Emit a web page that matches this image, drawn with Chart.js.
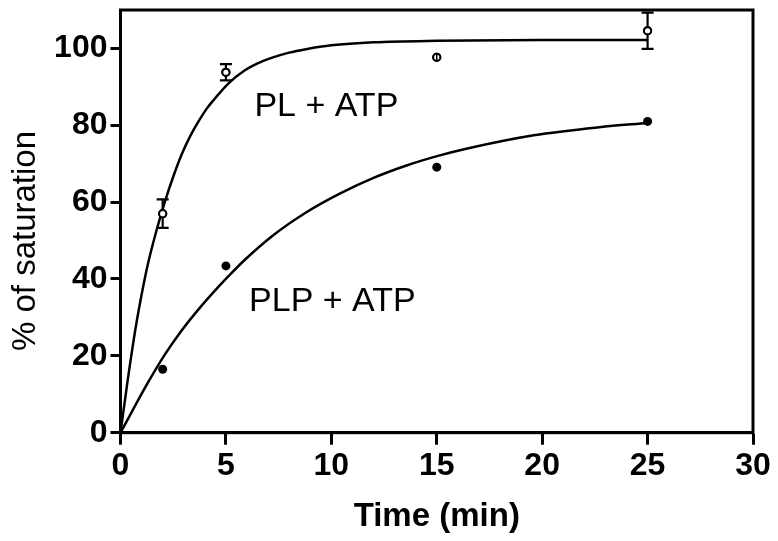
<!DOCTYPE html>
<html>
<head>
<meta charset="utf-8">
<script src="https://cdn.jsdelivr.net/npm/chart.js@4.4.1/dist/chart.umd.min.js"></script>
<style>
  html, body { margin: 0; padding: 0; background: #fff; }
  #wrap { width: 778px; height: 541px; position: relative; }
</style>
</head>
<body>
<div id="wrap"><canvas id="c" width="778" height="541"></canvas></div>
<script>
// ---- data ----
const timeMin = [2, 5, 15, 25];
const plAtp = [57.0, 93.8, 97.7, 104.6];
const plAtpErr = [3.7, 2.1, 1.0, 4.7];
const plpAtp = [16.5, 43.4, 69.1, 81.0];

const plFitTime = [0, 0.35, 0.7, 1.0, 1.3, 1.7, 2.1, 2.5, 2.9, 3.3, 3.7, 4.1, 4.5, 5.1, 5.9, 6.5, 7.2, 8.0, 8.8, 10, 12, 15, 20, 25];
const plFitValue = [0, 14.0, 26.7, 35.9, 43.9, 52.5, 60.0, 66.6, 72.4, 77.1, 81.0, 84.4, 87.1, 90.8, 94.3, 96.1, 97.6, 98.9, 99.8, 100.8, 101.6, 102.0, 102.2, 102.2];

const plpFitTime = [0, 1.3, 2.1, 2.9, 3.7, 4.5, 5.1, 5.9, 7.2, 8.8, 10.4, 12, 13.6, 15.1, 16.4, 19.6, 22.7, 25];
const plpFitValue = [0, 13.0, 20.3, 26.6, 32.1, 37.1, 40.6, 45.0, 51.2, 57.3, 62.2, 66.3, 69.6, 72.1, 73.9, 77.4, 79.5, 80.6];

const xTicks = [0, 5, 10, 15, 20, 25, 30];
const yTicks = [0, 20, 40, 60, 80, 100];

const seriesLabels = ['PL + ATP', 'PLP + ATP'];
const xTitle = 'Time (min)';
const yTitle = '% of saturation';

const toXY = (xs, ys) => xs.map((x, i) => ({ x: x, y: ys[i] }));

const FONT = "'Liberation Sans', Arial, Helvetica, sans-serif";

const framePlugin = {
  id: 'frame',
  afterDraw(chart) {
    const { ctx, chartArea: a } = chart;
    ctx.save();
    ctx.strokeStyle = '#000';
    ctx.lineWidth = 3;
    ctx.strokeRect(a.left, a.top, a.right - a.left, a.bottom - a.top);
    ctx.restore();
  }
};

const yTitlePlugin = {
  id: 'yTitle',
  afterDraw(chart) {
    const { ctx } = chart;
    ctx.save();
    ctx.fillStyle = '#000';
    ctx.font = "33px " + FONT;
    ctx.textAlign = 'center';
    ctx.textBaseline = 'middle';
    ctx.translate(26, 241);
    ctx.rotate(-Math.PI / 2);
    ctx.fillText(yTitle, 0, 0);
    ctx.restore();
  }
};

const errorBarPlugin = {
  id: 'errorBars',
  afterDatasetsDraw(chart) {
    const { ctx, scales } = chart;
    ctx.save();
    ctx.strokeStyle = '#000';
    timeMin.forEach((t, i) => {
      const px = scales.x.getPixelForValue(t);
      const py = scales.y.getPixelForValue(plAtp[i]);
      const yHi = scales.y.getPixelForValue(plAtp[i] + plAtpErr[i]);
      const yLo = scales.y.getPixelForValue(plAtp[i] - plAtpErr[i]);
      ctx.lineWidth = 2.2;
      ctx.beginPath();
      ctx.moveTo(px, yHi); ctx.lineTo(px, yLo);
      ctx.stroke();
      if (Math.abs(yLo - yHi) / 2 > 6) {
        ctx.beginPath();
        ctx.moveTo(px - 6, yHi); ctx.lineTo(px + 6, yHi);
        ctx.moveTo(px - 6, yLo); ctx.lineTo(px + 6, yLo);
        ctx.stroke();
      }
      ctx.beginPath();
      ctx.arc(px, py, 3.6, 0, Math.PI * 2);
      ctx.fillStyle = '#fff';
      ctx.fill();
      ctx.lineWidth = 2;
      ctx.stroke();
      if (Math.abs(yLo - yHi) / 2 <= 6) {
        ctx.beginPath();
        ctx.lineWidth = 1.5;
        ctx.moveTo(px, yHi); ctx.lineTo(px, yLo);
        ctx.stroke();
      }
    });
    ctx.restore();
  }
};

const labelPlugin = {
  id: 'seriesLabels',
  afterDraw(chart) {
    const { ctx, scales } = chart;
    ctx.save();
    ctx.fillStyle = '#000';
    ctx.font = "34px " + FONT;
    ctx.textBaseline = 'alphabetic';
    ctx.textAlign = 'left';
    ctx.fillText(seriesLabels[0], scales.x.getPixelForValue(6.35), scales.y.getPixelForValue(82.3));
    ctx.fillText(seriesLabels[1], scales.x.getPixelForValue(6.1), scales.y.getPixelForValue(31.8));
    ctx.restore();
  }
};

new Chart(document.getElementById('c'), {
  type: 'scatter',
  data: {
    datasets: [
      {
        label: seriesLabels[0] + ' fit',
        data: toXY(plFitTime, plFitValue),
        showLine: true,
        borderColor: '#000',
        borderWidth: 2.5,
        pointRadius: 0,
        cubicInterpolationMode: 'monotone'
      },
      {
        label: seriesLabels[1] + ' fit',
        data: toXY(plpFitTime, plpFitValue),
        showLine: true,
        borderColor: '#000',
        borderWidth: 2.5,
        pointRadius: 0,
        cubicInterpolationMode: 'monotone'
      },
      {
        label: seriesLabels[0],
        data: toXY(timeMin, plAtp),
        pointRadius: 3.6,
        pointBackgroundColor: '#fff',
        pointBorderColor: '#000',
        pointBorderWidth: 2
      },
      {
        label: seriesLabels[1],
        data: toXY(timeMin, plpAtp),
        pointRadius: 4.5,
        pointBackgroundColor: '#000',
        pointBorderColor: '#000',
        pointBorderWidth: 0
      }
    ]
  },
  options: {
    responsive: false,
    animation: false,
    events: [],
    layout: { padding: { top: 10, right: 25, left: 0, bottom: 0 } },
    plugins: {
      legend: { display: false },
      tooltip: { enabled: false }
    },
    scales: {
      x: {
        type: 'linear',
        min: 0, max: 30,
        afterBuildTicks(s) { s.ticks = xTicks.map(v => ({ value: v })); },
        afterFit(s) { s.height = 108.3; s.paddingLeft = 0; s.paddingRight = 0; },
        border: { display: true, color: '#000', width: 3 },
        grid: { display: true, drawOnChartArea: false, tickLength: 12, tickWidth: 3, tickColor: '#000' },
        ticks: { color: '#000', font: { family: FONT, size: 32, weight: 'bold' }, padding: 2, maxRotation: 0 },
        title: { display: true, text: xTitle, color: '#000', font: { family: FONT, size: 33, weight: 'bold', lineHeight: 1 }, padding: { top: 0, bottom: 8 } }
      },
      y: {
        type: 'linear',
        min: 0, max: 110,
        afterBuildTicks(s) { s.ticks = yTicks.map(v => ({ value: v })); },
        afterFit(s) { s.width = 120.5; s.paddingTop = 0; s.paddingBottom = 0; },
        border: { display: true, color: '#000', width: 3 },
        grid: { display: true, drawOnChartArea: false, tickLength: 10, tickWidth: 3, tickColor: '#000' },
        ticks: { color: '#000', font: { family: FONT, size: 32, weight: 'bold' }, padding: 3 },
        title: { display: false }
      }
    }
  },
  plugins: [framePlugin, errorBarPlugin, labelPlugin, yTitlePlugin]
});
</script>
</body>
</html>
